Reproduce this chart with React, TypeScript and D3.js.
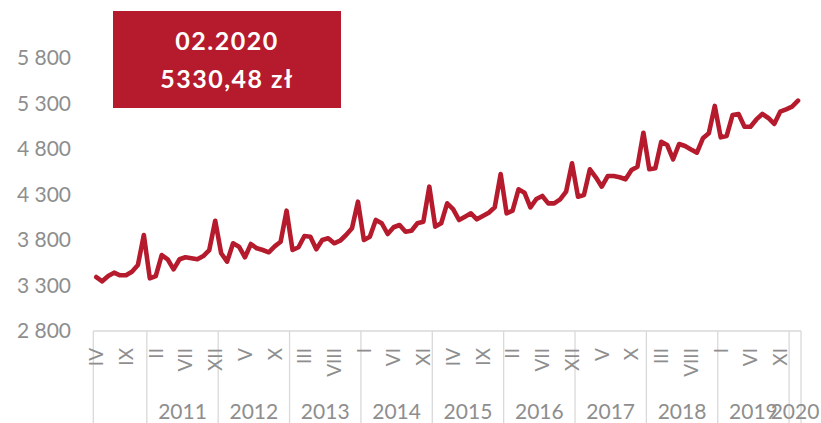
import * as d3 from "d3";
import React from "react";

// roman month labels, data starts at IV 2010 and ends at II 2020
const romans = ["I", "II", "III", "IV", "V", "VI", "VII", "VIII", "IX", "X", "XI", "XII"];
const startYear = 2010;
const startMonth = 3; // index into romans -> IV

// average monthly wage (zł), Apr 2010 .. Feb 2020
const wages2010 = [3393, 3346, 3404, 3441, 3412, 3412, 3452, 3525, 3855];
const wages2011 = [3379, 3404, 3635, 3588, 3478, 3588, 3610, 3599, 3588, 3624, 3690, 4012];
const wages2012 = [3654, 3562, 3764, 3727, 3610, 3756, 3709, 3690, 3665, 3730, 3781, 4122];
const wages2013 = [3690, 3720, 3844, 3836, 3698, 3800, 3819, 3764, 3792, 3855, 3929, 4221];
const wages2014 = [3800, 3836, 4020, 3984, 3866, 3940, 3965, 3891, 3902, 3984, 4001, 4386];
const wages2015 = [3947, 3984, 4203, 4140, 4020, 4056, 4093, 4027, 4064, 4100, 4159, 4525];
const wages2016 = [4093, 4122, 4357, 4320, 4159, 4251, 4284, 4203, 4203, 4247, 4331, 4643];
const wages2017 = [4276, 4295, 4577, 4489, 4386, 4503, 4503, 4489, 4467, 4569, 4606, 4979];
const wages2018 = [4577, 4588, 4880, 4844, 4687, 4855, 4833, 4795, 4760, 4917, 4973, 5273];
const wages2019 = [4928, 4943, 5174, 5185, 5045, 5045, 5125, 5185, 5141, 5075, 5210, 5236];
const wages2020 = [5265, 5330.48];

const yTicks = [2800, 3300, 3800, 4300, 4800, 5300, 5800];
const labelEvery = 5;
const calloutDate = "02.2020";
const calloutValue = "5330,48 zł";
// year groups that get no text label under them
const hiddenYears = [2010];

const values = [
  ...wages2010, ...wages2011, ...wages2012, ...wages2013, ...wages2014,
  ...wages2015, ...wages2016, ...wages2017, ...wages2018, ...wages2019, ...wages2020,
];

const categories = values.map((_, i) => {
  const m = startMonth + i;
  return { idx: i, year: startYear + Math.floor(m / 12), month: romans[m % 12] };
});

const RED = "#b51b2c";
const GRAY = "#8e8e8e";
const AXIS = "#d9d9d9";
const FONT = "Lato, 'Open Sans', sans-serif";

export default function App() {
  const width = 821;
  const height = 423;
  const left = 93.3;
  const right = 801;
  const axisY = 331;

  const x = d3.scaleBand<number>().domain(categories.map((c) => c.idx)).range([left, right]).padding(0);
  const y = d3.scaleLinear().domain([2800, 5800]).range([axisY, 58]);
  const cx = (i: number) => (x(i) as number) + x.bandwidth() / 2;

  const line = d3
    .line<number>()
    .x((_, i) => cx(i))
    .y((d) => y(d));

  const years = Array.from(d3.group(categories, (c) => c.year), ([year, cs]) => ({
    year,
    start: x(cs[0].idx) as number,
    end: (x(cs[cs.length - 1].idx) as number) + x.bandwidth(),
  }));

  return (
    <svg width={width} height={height} style={{ position: "absolute", left: 0, top: 0 }} fontFamily={FONT}>
      <rect width={width} height={height} fill="#fff" />

      {/* y labels */}
      {yTicks.map((t) => (
        <text key={t} x={71} y={y(t)} dy="0.35em" textAnchor="end" fontSize={21} fill={GRAY}>
          {d3.format(",")(t).replace(",", " ")}
        </text>
      ))}

      {/* category axis */}
      <line x1={left} x2={right} y1={axisY} y2={axisY} stroke={AXIS} strokeWidth={1.3} />
      {years.map((g) => (
        <line key={"s" + g.year} x1={g.start} x2={g.start} y1={axisY} y2={height} stroke={AXIS} strokeWidth={1.3} />
      ))}
      <line x1={right} x2={right} y1={axisY} y2={height} stroke={AXIS} strokeWidth={1.3} />

      {categories
        .filter((c) => c.idx % labelEvery === 0)
        .map((c) => (
          <text
            key={"m" + c.idx}
            transform={`translate(${cx(c.idx)},348) rotate(-90)`}
            textAnchor="end"
            dy="0.36em"
            fontSize={19}
            fill={GRAY}
          >
            {c.month}
          </text>
        ))}

      {years
        .filter((g) => !hiddenYears.includes(g.year))
        .map((g) => (
          <text key={"y" + g.year} x={(g.start + g.end) / 2} y={419} textAnchor="middle" fontSize={21} fill={GRAY}>
            {g.year}
          </text>
        ))}

      {/* series */}
      <path d={line(values) || ""} fill="none" stroke={RED} strokeWidth={4.6} strokeLinejoin="round" strokeLinecap="round" />

      {/* callout */}
      <rect x={113} y={11} width={228} height={97} fill={RED} />
      <text x={227} y={50} textAnchor="middle" fontSize={25} fontWeight="bold" fill="#fff" letterSpacing={1.5}>
        {calloutDate}
      </text>
      <text x={227} y={88} textAnchor="middle" fontSize={25} fontWeight="bold" fill="#fff" letterSpacing={1.5}>
        {calloutValue}
      </text>
    </svg>
  );
}
